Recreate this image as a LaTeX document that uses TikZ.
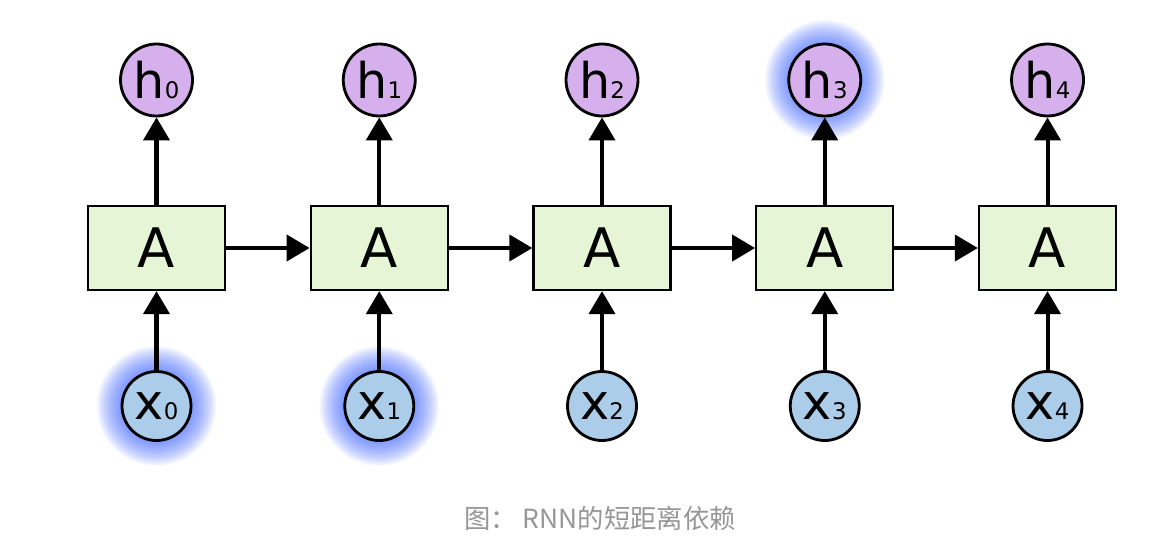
\documentclass[tikz,border=0pt]{standalone}
\usepackage{fontspec}
\setmainfont{DejaVu Sans}
\newfontfamily\cjk{Noto Sans CJK SC}
\usetikzlibrary{positioning, arrows.meta, backgrounds}

\definecolor{cellgreen}{RGB}{229,245,214}
\definecolor{outpurple}{RGB}{213,176,236}
\definecolor{inblue}{RGB}{171,205,233}
\definecolor{glowblue}{RGB}{45,85,255}
\definecolor{captiongray}{RGB}{150,150,150}

\newcommand{\idx}[1]{{\fontsize{13}{13}\selectfont #1}}

\begin{document}
\begin{tikzpicture}[on grid, node distance=4.455cm,
        cell/.style={rectangle, draw, line width=1.3pt, fill=cellgreen, minimum width=2.74cm, minimum height=1.68cm, font=\fontsize{31}{31}\selectfont},
        hstate/.style={circle, draw, line width=1.6pt, fill=outpurple, minimum size=1.44cm, inner sep=0pt, font=\fontsize{28}{28}\selectfont},
        xinput/.style={circle, draw, line width=1.6pt, fill=inblue, minimum size=1.38cm, inner sep=0pt, font=\fontsize{28}{28}\selectfont},
        flow/.style={line width=2.3pt, -{Triangle[length=0.46cm, width=0.52cm]}}]
                \useasboundingbox (0,0) rectangle (23.48,-10.88);

                \node[cell] (A0) at (3.13,-4.96) {A};
                \node[cell] (A1) [right=of A0] {A};
                \node[cell] (A2) [right=of A1] {A};
                \node[cell] (A3) [right=of A2] {A};
                \node[cell] (A4) [right=of A3] {A};

                \node[hstate] (h0) [above=3.36cm of A0] {h\idx{0}};
                \node[hstate] (h1) [above=3.36cm of A1] {h\idx{1}};
                \node[hstate] (h2) [above=3.36cm of A2] {h\idx{2}};
                \node[hstate] (h3) [above=3.36cm of A3] {h\idx{3}};
                \node[hstate] (h4) [above=3.36cm of A4] {h\idx{4}};

                \node[xinput] (x0) [below=3.16cm of A0] {x\idx{0}};
                \node[xinput] (x1) [below=3.16cm of A1] {x\idx{1}};
                \node[xinput] (x2) [below=3.16cm of A2] {x\idx{2}};
                \node[xinput] (x3) [below=3.16cm of A3] {x\idx{3}};
                \node[xinput] (x4) [below=3.16cm of A4] {x\idx{4}};

                \foreach \i [count=\j] in {0,...,3} {
                        \draw[flow] (A\i) -- (A\j);
                }
                \foreach \i in {0,...,4} {
                        \draw[flow] (x\i) -- (A\i);
                        \draw[flow] (A\i) -- (h\i);
                }

                % blue glow behind the highlighted states
                \begin{pgfonlayer}{background}
                        \foreach \n in {x0, x1, h3} {
                                \foreach \r in {0.72,0.74,...,1.22} {
                                        \fill[glowblue, opacity=0.035] (\n) circle (\r);
                                }
                        }
                \end{pgfonlayer}

                \node[text=captiongray, font=\cjk\fontsize{15}{15}\selectfont] (caption) at (12.0,-10.36) {图： RNN的短距离依赖};
        \end{tikzpicture}
\end{document}
